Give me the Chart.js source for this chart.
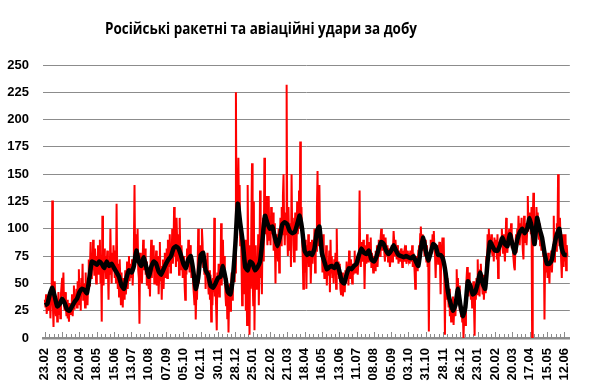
<!DOCTYPE html>
<html>
<head>
<meta charset="utf-8">
<script src="https://cdn.jsdelivr.net/npm/chart.js@4.4.1/dist/chart.umd.min.js"></script>
<style>
  html, body { margin: 0; padding: 0; background: #fff; }
  #wrap { width: 590px; height: 392px; }
</style>
</head>
<body>
<div id="wrap"><canvas id="chart" width="590" height="392"></canvas></div>
<script>
const TITLE = "Російські ракетні та авіаційні удари за добу";

// one label every 28 days, starting 23.02.2022
const tickLabels = [
  "23.02", "23.03", "20.04", "18.05", "15.06", "13.07", "10.08", "07.09",
  "05.10", "02.11", "30.11", "28.12", "25.01", "22.02", "21.03", "18.04",
  "16.05", "13.06", "11.07", "08.08", "05.09", "03.10", "31.10", "28.11",
  "26.12", "23.01", "20.02", "20.03", "17.04", "15.05", "12.06",
];
const LABEL_STEP = 28;

// strikes per day, day 0 = 23.02.2022
const dailyStrikes = [
  35, 28, 40, 22, 32, 38, 25, 30, 42, 18, 35, 44, 126, 30, 10, 40, 52, 28, 20, 36, 15, 30, 42, 22, 35, 18, 40, 48,
  55, 38, 60, 30, 25, 42, 28, 20, 35, 18, 28, 15, 32, 22, 30, 25, 40, 20, 35, 48, 26, 38, 30, 45, 28, 52, 40, 63,
  30, 48, 25, 55, 40, 68, 35, 50, 42, 28, 60, 38, 45, 30, 52, 72, 48, 65, 88, 55, 75, 62, 90, 70, 58, 82, 66, 50,
  75, 60, 85, 58, 72, 90, 50, 64, 15, 112, 70, 48, 82, 60, 75, 55, 68, 80, 62, 35, 72, 58, 100, 66, 50, 78, 62, 85,
  70, 55, 80, 50, 123, 62, 45, 68, 38, 72, 55, 30, 60, 42, 28, 55, 48, 35, 62, 40, 50, 70, 45, 58, 75, 52, 68, 60,
  55, 72, 48, 65, 85, 140, 70, 95, 88, 75, 100, 62, 55, 13, 78, 60, 72, 50, 68, 90, 75, 62, 82, 58, 70, 48, 60, 52,
  45, 60, 38, 70, 90, 55, 78, 62, 85, 50, 72, 65, 80, 48, 60, 75, 40, 58, 88, 52, 66, 35, 60, 72, 45, 62, 78, 55,
  70, 82, 55, 90, 65, 78, 95, 60, 85, 72, 100, 68, 80, 120, 75, 92, 65, 110, 88, 70, 95, 58, 110, 78, 62, 85, 70, 55,
  60, 75, 48, 35, 70, 58, 82, 65, 90, 72, 60, 85, 78, 55, 70, 62, 48, 40, 30, 55, 17, 42, 35, 60, 100, 50, 65, 80,
  85, 70, 100, 88, 65, 80, 58, 72, 45, 68, 55, 78, 50, 40, 62, 35, 58, 15, 48, 30, 55, 42, 110, 38, 50, 28, 7, 60,
  45, 68, 38, 60, 52, 105, 48, 70, 90, 58, 75, 62, 40, 30, 55, 18, 45, 5, 38, 50, 25, 42, 60, 35, 48, 70, 52, 75,
  60, 225, 95, 130, 120, 165, 110, 140, 85, 105, 70, 30, 95, 55, 80, 40, 90, 25, 65, 12, 140, 75, 50, 3, 85, 45, 110, 160,
  55, 30, 125, 7, 60, 85, 45, 70, 50, 95, 30, 65, 135, 55, 80, 40, 95, 110, 70, 165, 120, 95, 130, 100, 85, 115, 130, 90,
  110, 85, 120, 95, 100, 115, 80, 105, 90, 50, 95, 75, 85, 70, 100, 60, 90, 110, 85, 120, 95, 130, 150, 100, 85, 115, 95, 232,
  100, 75, 120, 90, 80, 105, 65, 150, 95, 110, 85, 70, 100, 115, 90, 80, 125, 95, 105, 135, 100, 180, 110, 120, 90, 75, 45, 85,
  60, 90, 75, 45, 85, 70, 95, 65, 80, 88, 50, 72, 90, 68, 85, 75, 100, 60, 95, 80, 120, 153, 85, 110, 140, 95, 90, 75,
  80, 60, 95, 70, 55, 75, 62, 85, 48, 70, 58, 65, 80, 42, 90, 60, 75, 55, 68, 50, 72, 62, 78, 45, 100, 65, 58, 70,
  55, 68, 45, 40, 52, 60, 38, 48, 55, 42, 62, 50, 70, 58, 65, 48, 80, 60, 55, 72, 62, 50, 68, 58, 65, 80, 60, 70,
  62, 75, 58, 70, 80, 135, 72, 65, 88, 78, 70, 90, 82, 45, 75, 85, 68, 95, 78, 70, 88, 75, 82, 92, 65, 78, 70, 60,
  68, 75, 62, 80, 72, 85, 65, 78, 90, 82, 75, 92, 100, 85, 80, 95, 88, 78, 70, 92, 80, 75, 85, 70, 82, 78, 65, 72,
  78, 85, 70, 82, 98, 88, 75, 90, 80, 72, 85, 78, 68, 80, 75, 70, 82, 76, 65, 80, 74, 78, 70, 85, 72, 68, 80, 75,
  72, 78, 68, 80, 75, 70, 85, 65, 78, 72, 60, 45, 68, 75, 62, 70, 80, 85, 72, 95, 102, 88, 95, 80, 92, 85, 75, 90,
  78, 70, 85, 65, 75, 6, 72, 80, 90, 85, 78, 95, 88, 98, 82, 75, 55, 80, 72, 85, 68, 78, 88, 70, 40, 75, 82, 92,
  70, 92, 55, 3, 60, 48, 35, 55, 40, 28, 45, 20, 35, 15, 30, 22, 38, 12, 28, 35, 20, 42, 63, 40, 55, 30, 48, 25,
  35, 20, 28, 15, 22, 0, 18, 30, 12, 40, 55, 65, 48, 38, 60, 42, 50, 35, 45, 28, 38, 52, 30, 2, 48, 35, 55, 40,
  72, 45, 55, 38, 62, 68, 55, 48, 40, 58, 35, 50, 42, 55, 75, 62, 95, 85, 100, 78, 92, 85, 95, 80, 75, 88, 70, 92,
  85, 78, 90, 72, 95, 55, 80, 88, 75, 92, 85, 100, 90, 78, 95, 82, 70, 88, 110, 85, 78, 90, 95, 100, 85, 92, 105, 88,
  90, 80, 72, 65, 62, 85, 95, 78, 100, 88, 112, 95, 85, 105, 98, 110, 92, 80, 72, 112, 95, 88, 105, 85, 98, 130, 100, 110,
  115, 105, 95, 120, 0, 105, 133, 90, 85, 110, 100, 120, 105, 115, 95, 90, 105, 85, 95, 80, 90, 88, 75, 82, 17, 70, 60, 72,
  70, 55, 78, 62, 50, 72, 65, 80, 60, 75, 85, 112, 70, 88, 95, 80, 105, 92, 150, 100, 85, 110, 90, 70, 55, 85, 95, 65,
  88, 70, 95, 62, 85, 75,
];

// smoothed (average) line, one reading every 4 days
const averageStrikes = [
  30, 31, 40, 46, 38, 29, 31,
  36, 32, 26, 25, 29, 33, 36,
  42, 45, 44, 41, 55, 70, 69,
  67, 70, 68, 64, 70, 66, 68,
  64, 60, 56, 48, 45, 55, 62,
  60, 66, 80, 70, 66, 74, 65,
  56, 65, 70, 68, 61, 58, 63,
  68, 72, 75, 82, 84, 82, 76,
  68, 64, 72, 75, 62, 45, 55,
  76, 78, 62, 58, 48, 46, 50,
  55, 56, 66, 55, 42, 40, 55,
  85, 123, 105, 88, 65, 62, 70,
  68, 62, 65, 70, 90, 112, 105,
  100, 102, 92, 84, 92, 104, 106,
  104, 98, 96, 97, 104, 112, 100,
  80, 76, 78, 76, 82, 98, 102,
  78, 70, 63, 65, 66, 64, 68,
  62, 52, 50, 58, 64, 63, 66,
  68, 76, 82, 78, 77, 80, 72,
  70, 74, 82, 88, 86, 80, 77,
  80, 85, 80, 76, 75, 74, 75,
  74, 73, 75, 70, 66, 82, 92,
  80, 71, 78, 86, 84, 76, 76,
  72, 60, 42, 32, 25, 30, 45,
  30, 20, 28, 52, 48, 40, 42,
  50, 60, 50, 45, 70, 88, 84,
  80, 80, 85, 92, 86, 84, 95,
  86, 78, 90, 97, 100, 96, 100,
  110, 100, 86, 110, 100, 92, 78,
  68, 68, 72, 85, 95, 100, 82,
  76, 76,
];
const AVG_STEP = 4;

const yTicks = [0, 25, 50, 75, 100, 125, 150, 175, 200, 225, 250];

const GRID = "#8c8c8c";
const tickFont = { family: "'Liberation Sans', Arial, sans-serif", size: 13, weight: "bold" };

// title is centred a bit left of the canvas middle, as in the original
const titlePlugin = {
  id: "titleText",
  afterDraw(chart) {
    const ctx = chart.ctx;
    ctx.save();
    ctx.font = "bold 16px 'Open Sans', sans-serif";
    const w = ctx.measureText(TITLE).width;
    const sx = Math.min(1, 312 / w);
    ctx.translate(261, 29);
    ctx.scale(sx, 1);
    ctx.fillStyle = "#000";
    ctx.textAlign = "center";
    ctx.textBaseline = "middle";
    ctx.fillText(TITLE, 0, 0);
    ctx.restore();
  },
};

// small week ticks along the bottom axis, pointing up into the plot
const weekTicks = {
  id: "weekTicks",
  beforeDatasetsDraw(chart) {
    const { ctx, scales: { x } } = chart;
    const bottom = chart.chartArea.bottom - 1;
    ctx.save();
    ctx.strokeStyle = GRID;
    ctx.lineWidth = 1;
    for (let d = 0; d < dailyStrikes.length; d += 7) {
      const px = Math.round(x.getPixelForValue(d)) + 0.5;
      const len = d % LABEL_STEP === 0 ? 5 : 3;
      ctx.beginPath();
      ctx.moveTo(px, bottom);
      ctx.lineTo(px, bottom - len);
      ctx.stroke();
    }
    ctx.restore();
  },
};

new Chart(document.getElementById("chart"), {
  type: "line",
  data: {
    datasets: [
      {
        label: "avg",
        data: averageStrikes.map((v, i) => ({ x: i * AVG_STEP, y: v })),
        borderColor: "#000000",
        borderWidth: 4.5,
        pointRadius: 0,
        tension: 0.15,
        order: 0,
      },
      {
        label: "daily",
        data: dailyStrikes.map((v, i) => ({ x: i, y: v })),
        borderColor: "#ff0000",
        borderWidth: 2,
        pointRadius: 0,
        tension: 0,
        order: 1,
      },
    ],
  },
  options: {
    responsive: false,
    animation: false,
    layout: { padding: { top: 65, right: 12, left: 0, bottom: 0 } },
    plugins: { legend: { display: false }, tooltip: { enabled: false } },
    scales: {
      x: {
        type: "linear",
        min: -3,
        max: 849,
        afterBuildTicks: (scale) => {
          scale.ticks = tickLabels.map((_, i) => ({ value: i * LABEL_STEP }));
        },
        afterFit: (scale) => { scale.height = 54; },
        ticks: {
          autoSkip: false,
          minRotation: 90,
          maxRotation: 90,
          padding: 10,
          color: "#000",
          font: tickFont,
          callback: (v) => tickLabels[Math.round(v / LABEL_STEP)],
        },
        grid: { display: false, drawTicks: false },
        border: { display: true, color: GRID, width: 2.5 },
      },
      y: {
        min: 0,
        max: 250,
        afterBuildTicks: (scale) => {
          scale.ticks = yTicks.map((v) => ({ value: v }));
        },
        afterFit: (scale) => { scale.width = 43; },
        ticks: { padding: 14, color: "#000", font: tickFont },
        grid: { color: GRID, lineWidth: 1, drawTicks: false },
        border: { display: false },
      },
    },
  },
  plugins: [titlePlugin, weekTicks],
});
</script>
</body>
</html>
